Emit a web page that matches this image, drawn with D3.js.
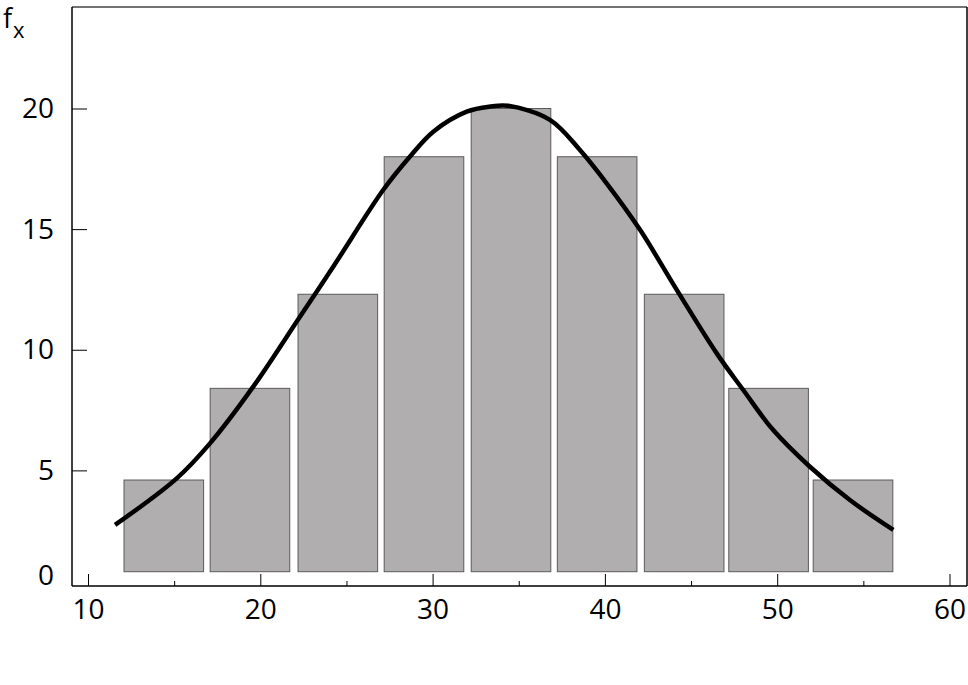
<!DOCTYPE html>
<html>
<head>
<meta charset="utf-8">
<script src="https://cdn.jsdelivr.net/npm/d3@7"></script>
<style>
  body { margin: 0; background: #fff; }
  svg text { font-family: "Open Sans", sans-serif; fill: #000; }
</style>
</head>
<body>
<div id="chart"></div>
<script>
// bin midpoints (x) and bar heights (frequency)
const binMid = [14.4, 19.4, 24.5, 29.5, 34.55, 39.55, 44.6, 49.5, 54.4];
const binFreq = [4.6, 8.4, 12.3, 18.0, 20.0, 18.0, 12.3, 8.4, 4.6];
const binWidth = 4.62;
const barBase = 0.8;

// fitted curve, points
const curveX = [11.57, 15.15, 17.08, 19.59, 22.3, 24.24, 27.14, 28.69, 30.04, 31.98, 33.33, 34.39,
                36.81, 38.55, 40.1, 42.04, 44.17, 46.49, 48.03, 49.77, 51.9, 54.22, 56.74];
const curveY = [2.74, 4.67, 6.12, 8.47, 11.37, 13.45, 16.63, 18.01, 19.04, 19.87, 20.08, 20.11,
                19.53, 18.28, 16.9, 14.97, 12.48, 9.85, 8.33, 6.67, 5.15, 3.77, 2.53];

const xTicks = [10, 20, 30, 40, 50, 60];
const xMinorTicks = [15, 25, 35, 45, 55];
const yTicks = [5, 10, 15, 20];

const width = 968;
const height = 685;
const frame = { left: 72, right: 967, top: 7, bottom: 586 };

const x = d3.scaleLinear().domain([10, 60]).range([88, 949.5]);
const y = d3.scaleLinear().domain([0, 20]).range([591, 108.5]);

const svg = d3.select('#chart')
    .append('svg')
    .attr('width', width)
    .attr('height', height);

// bars
svg.append('g')
    .selectAll('rect')
    .data(binMid.map((m, i) => ({ mid: m, f: binFreq[i] })))
    .join('rect')
    .attr('x', d => x(d.mid - binWidth / 2))
    .attr('width', d => x(d.mid + binWidth / 2) - x(d.mid - binWidth / 2))
    .attr('y', d => y(d.f))
    .attr('height', d => y(barBase) - y(d.f))
    .attr('fill', '#b1aeb0')
    .attr('stroke', '#5a5a5a')
    .attr('stroke-width', 1);

// curve
const line = d3.line()
    .x(d => x(d[0]))
    .y(d => y(d[1]))
    .curve(d3.curveCatmullRom.alpha(0.5));

svg.append('path')
    .datum(curveX.map((v, i) => [v, curveY[i]]))
    .attr('d', line)
    .attr('fill', 'none')
    .attr('stroke', '#000')
    .attr('stroke-width', 4.5);

// frame
svg.append('line')
    .attr('x1', frame.left).attr('x2', frame.right)
    .attr('y1', frame.top).attr('y2', frame.top)
    .attr('stroke', '#444').attr('stroke-width', 1.5);
svg.append('line')
    .attr('x1', frame.right).attr('x2', frame.right)
    .attr('y1', frame.top).attr('y2', frame.bottom)
    .attr('stroke', '#000').attr('stroke-width', 1.5);

// x axis
const xAxis = svg.append('g')
    .attr('transform', `translate(0, ${frame.bottom})`)
    .call(d3.axisBottom(x).tickValues(xTicks).tickSize(-12).tickPadding(13).tickSizeOuter(0));
xAxis.select('.domain').attr('d', `M${frame.left},0H${frame.right}`).attr('stroke-width', 1.5);
xAxis.selectAll('text').attr('font-size', 28).attr('font-family', '"Open Sans", sans-serif');

svg.append('g')
    .attr('transform', `translate(0, ${frame.bottom})`)
    .call(d3.axisBottom(x).tickValues(xMinorTicks).tickSize(-5).tickFormat(''))
    .call(g => g.select('.domain').remove());

// y axis
const yAxis = svg.append('g')
    .attr('transform', `translate(${frame.left}, 0)`)
    .call(d3.axisLeft(y).tickValues(yTicks).tickSize(-15).tickPadding(18).tickSizeOuter(0));
yAxis.select('.domain').attr('d', `M0,${frame.top}V${frame.bottom}`).attr('stroke-width', 1.5);
yAxis.selectAll('text').attr('font-size', 28).attr('font-family', '"Open Sans", sans-serif');

svg.append('text')
    .attr('x', frame.left - 18)
    .attr('y', y(0.6))
    .attr('dy', '0.32em')
    .attr('text-anchor', 'end')
    .attr('font-size', 28)
    .text('0');

// f_x label
svg.append('text')
    .attr('x', 3)
    .attr('y', 28)
    .attr('font-size', 27)
    .text('f');
svg.append('text')
    .attr('x', 13)
    .attr('y', 38)
    .attr('font-size', 22)
    .text('x');
</script>
</body>
</html>
